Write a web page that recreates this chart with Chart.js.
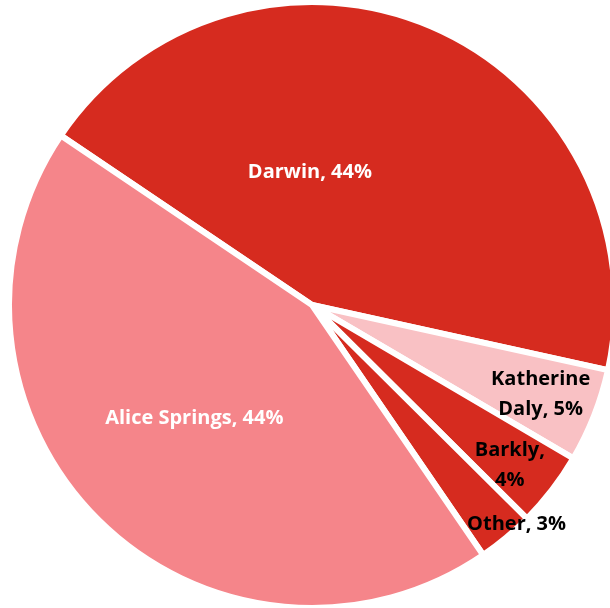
<!DOCTYPE html>
<html>
<head>
<meta charset="utf-8">
<script src="https://cdn.jsdelivr.net/npm/chart.js@4.4.1/dist/chart.umd.min.js"></script>
<style>
  html, body { margin: 0; padding: 0; background: #fff; }
  #wrap { width: 610px; height: 608px; }
</style>
</head>
<body>
<div id="wrap"><canvas id="pieChart"></canvas></div>
<script>
// regions, clockwise from the Darwin slice
var regions = ["Darwin", "Katherine Daly", "Barkly", "Other", "Alice Springs"];
var shares = [44, 5, 4, 3, 44];

var sliceColors = ["#d62b1f", "#f9c1c4", "#d62b1f", "#d62b1f", "#f5858a"];
var labelColors = ["#ffffff", "#000000", "#000000", "#000000", "#ffffff"];
// [angle from 12 o'clock in degrees, distance as fraction of radius]
var labelSpots = [[-0.9, 0.437], [111.3, 0.81], [129, 0.84], [137, 0.99], [226, 0.54]];
var labelWrap = [false, true, true, false, false];

//-------------
//- DATA LABELS -
//-------------
var sliceLabels = {
  id: "sliceLabels",
  afterDatasetsDraw: function (chart) {
    var ctx = chart.ctx;
    var meta = chart.getDatasetMeta(0);
    ctx.save();
    ctx.font = "bold 20px 'Open Sans'";
    ctx.textAlign = "center";
    ctx.textBaseline = "middle";
    meta.data.forEach(function (arc, i) {
      var text = regions[i] + ", " + shares[i] + "%";
      var lines = [text];
      if (labelWrap[i]) {
        var cut = text.indexOf(" ");
        lines = [text.slice(0, cut), text.slice(cut + 1)];
      }
      var a = (labelSpots[i][0] - 90) * Math.PI / 180;
      var r = arc.outerRadius * labelSpots[i][1];
      var x = arc.x + Math.cos(a) * r;
      var y = arc.y + Math.sin(a) * r;
      var lh = 30;
      ctx.fillStyle = labelColors[i];
      lines.forEach(function (line, j) {
        ctx.fillText(line, x, y + (j - (lines.length - 1) / 2) * lh);
      });
    });
    ctx.restore();
  },
};

var pieCanvas = document.getElementById("pieChart").getContext("2d");
new Chart(pieCanvas, {
  type: "pie",
  data: {
    labels: regions,
    datasets: [
      {
        data: shares,
        backgroundColor: sliceColors,
        borderColor: "#ffffff",
        borderWidth: 6,
        hoverOffset: 0,
      },
    ],
  },
  options: {
    responsive: true,
    maintainAspectRatio: false,
    animation: false,
    rotation: 304,
    radius: 303,
    layout: { padding: { left: 14, top: 2, right: 0, bottom: 0 } },
    plugins: {
      legend: { display: false },
      tooltip: { enabled: false },
    },
  },
  plugins: [sliceLabels],
});
</script>
</body>
</html>
